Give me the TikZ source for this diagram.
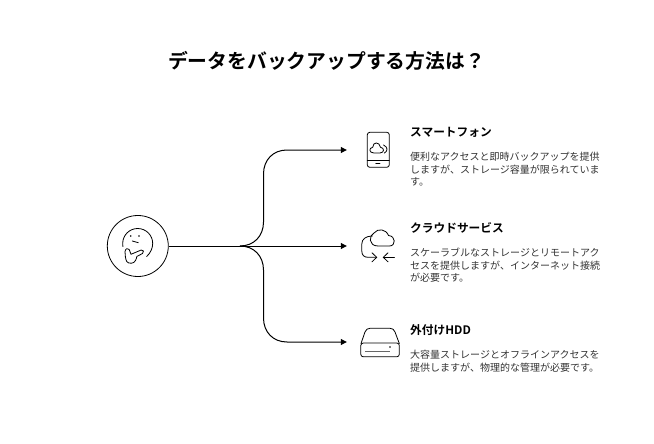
\documentclass[tikz,border=0pt]{standalone}
\usepackage{fontspec}
\setmainfont{Noto Sans CJK JP}
\newfontfamily\jpbold{Noto Sans CJK JP Bold}
\newfontfamily\jpreg{Noto Sans CJK JP}
\usetikzlibrary{arrows.meta}
\tikzset{
  titletext/.style={anchor=base,inner sep=0pt,font=\jpbold\fontsize{19.8}{24}\selectfont,text=black},
  headtext/.style={anchor=base west,inner sep=0pt,font=\jpbold\fontsize{11.7}{14}\selectfont,text=black},
  bodytext/.style={anchor=north west,inner sep=0pt,align=left,font=\jpreg\fontsize{10}{12.4}\selectfont,text=black!80},
  conn/.style={draw=black,line width=1pt},
  tipped/.style={-{Triangle[length=6pt,width=6pt]}},
  icon/.style={draw=black,line width=0.8pt,line cap=round,line join=round},
  hub/.style={circle,draw=black,line width=0.8pt,minimum size=61pt,inner sep=0pt},
  endpt/.style={inner sep=0pt,minimum size=0pt}
}
\begin{document}
\begin{tikzpicture}[x=1pt,y=-1pt]
\useasboundingbox (0,0) rectangle (654,444);
\fill[white] (0,0) rectangle (654,444);
\node[titletext] (title) at (326.5,69) {データをバックアップする方法は？};
\node[hub] (think) at (137.8,246) {};
\coordinate (split) at (240,246);
\node[endpt] (a) at (347,150) {};
\node[endpt] (b) at (347,246) {};
\node[endpt] (c) at (347,342) {};
\draw[conn] (think.east) -- (split);
\draw[conn,tipped] (split) .. controls (254,246) and (263.5,236) .. (263.5,222) -- (263.5,174) .. controls (263.5,160) and (273,150) .. (287,150) -- (a);
\draw[conn,tipped] (split) -- (b);
\draw[conn,tipped] (split) .. controls (254,246) and (263.5,256) .. (263.5,270) -- (263.5,318) .. controls (263.5,332) and (273,342) .. (287,342) -- (c);
% thinking face
\draw[icon] (122.9,246.5) -- (122.7,243.5) .. controls (122.7,235.2) and (129.4,228.5) .. (137.7,228.5) .. controls (146,228.5) and (152.7,235.2) .. (152.7,243.5) .. controls (152.7,248) and (150.5,253) .. (146.7,256.5);
\fill (130.7,236) circle (0.9);
\fill (139,236) circle (0.9);
\draw[icon] (132.3,241) -- (138.3,242.7);
\draw[icon] (125,251.5) .. controls (125,255) and (125.5,259) .. (126.7,261.5) .. controls (128.5,264) and (134,264) .. (135.5,260.5) .. controls (136.5,258.5) and (136.7,257.5) .. (136.8,256.5) -- (142.5,253.5) .. controls (144.5,252) and (143.5,249.5) .. (141.2,250) -- (131,254.3) -- (129.2,249.5) .. controls (128,247.5) and (125.5,248.5) .. (125,251.5);
% phone
\draw[icon,rounded corners=2.5pt] (367.3,132.3) rectangle (389.3,167.3);
\draw[icon] (367.3,160) -- (389.3,160);
\draw[icon] (375.8,163.5) -- (380,163.5);
\draw[icon] (374,153) -- (380,153) .. controls (384.5,153) and (384.5,147.5) .. (380.5,147.3) .. controls (379.5,141.5) and (373,141.5) .. (372.7,147.3) .. controls (368.5,148) and (369,153) .. (374,153);
\draw[icon] (383.5,145) .. controls (388,147) and (388,151) .. (384.5,153);
% cloud
\draw[icon] (378,246) -- (389.5,246) .. controls (396,246) and (396,236) .. (388.5,235.5) .. controls (386,229) and (378,228) .. (374,233) .. controls (369,235) and (368,246) .. (378,246);
\draw[icon] (372.5,236) .. controls (366,236) and (361.8,239) .. (361.8,244) -- (361.8,251) .. controls (361.8,255) and (364,257.3) .. (368,257.3) -- (376.7,257.3);
\draw[icon] (372,252.8) -- (376.7,257.3) -- (372,261.8);
\draw[icon] (394.5,257.3) -- (383.3,257.3);
\draw[icon] (388,252.8) -- (383.3,257.3) -- (388,261.8);
% hdd
\draw[icon] (361,343.5) -- (365,332) .. controls (366,329.5) and (367.5,328.3) .. (370,328.3) -- (390,328.3) .. controls (392.5,328.3) and (394,329.5) .. (395,332) -- (399.3,343.5);
\draw[icon,rounded corners=2.5pt] (360.8,343) rectangle (399.3,356.8);
\draw[icon,line width=1.2pt,black!60,line cap=butt] (365,351.3) -- (390,351.3);
\fill (390,347) circle (0.8);
% text
\node[headtext] (h1) at (410,136) {スマートフォン};
\node[bodytext] (t1) at (410,152) {便利なアクセスと即時バックアップを提供\\しますが、ストレージ容量が限られていま\\す。};
\node[headtext] (h2) at (410,232) {クラウドサービス};
\node[bodytext] (t2) at (410,248) {スケーラブルなストレージとリモートアク\\セスを提供しますが、インターネット接続\\が必要です。};
\node[headtext] (h3) at (410,334) {外付けHDD};
\node[bodytext] (t3) at (410,350) {大容量ストレージとオフラインアクセスを\\提供しますが、物理的な管理が必要です。};
\end{tikzpicture}
\end{document}
